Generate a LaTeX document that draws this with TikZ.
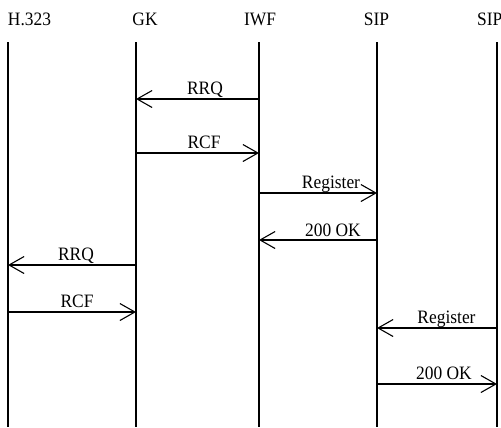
\documentclass[tikz,border=0pt]{standalone}
\usepackage{fontspec}
\setmainfont[FakeStretch=0.92]{Liberation Serif}
\usetikzlibrary{arrows.meta}
\tikzset{
  msg/.style={line width=1.1bp, -{Straight Barb[length=15bp,width=17bp]}},
  lbl/.style={anchor=base, inner sep=0pt, font=\fontsize{19}{22}\selectfont},
}
\begin{document}
\begin{tikzpicture}[x=1bp,y=-1bp]
\useasboundingbox (0,0) rectangle (501,427);
% lifelines
\foreach \n/\x in {h323/8,gk/136,iwf/259,sip/377,sipb/497}{
\coordinate (\n) at (\x,42);
\draw[line width=1.2bp] (\n) -- (\x,427);
}
\node[lbl] (th323) at (29.5,25) {H.323};
\node[lbl] (tgk) at (145,25) {GK};
\node[lbl] (tiwf) at (260,25) {IWF};
\node[lbl] (tsip) at (376.5,25) {SIP};
\node[lbl, anchor=base west] (tsipb) at (477,25) {SIP};
% messages
\draw[msg] (iwf |- 0,99) -- node[lbl, xshift=7.5bp, yshift=5bp] {RRQ} (gk |- 0,99);
\draw[msg] (gk |- 0,153) -- node[lbl, xshift=6.5bp, yshift=5bp] {RCF} (iwf |- 0,153);
\draw[msg] (iwf |- 0,193) -- node[lbl, xshift=13bp, yshift=5bp] {Register} (sip |- 0,193);
\draw[msg] (sip |- 0,240) -- node[lbl, xshift=15bp, yshift=4bp] {200 OK} (iwf |- 0,240);
\draw[msg] (gk |- 0,265) -- node[lbl, xshift=4bp, yshift=5bp] {RRQ} (h323 |- 0,265);
\draw[msg] (h323 |- 0,312) -- node[lbl, xshift=5bp, yshift=5bp] {RCF} (gk |- 0,312);
\draw[msg] (sipb |- 0,328) -- node[lbl, xshift=9.5bp, yshift=5bp] {Register} (sip |- 0,328);
\draw[msg] (sip |- 0,384) -- node[lbl, xshift=7bp, yshift=5bp] {200 OK} (sipb |- 0,384);
\end{tikzpicture}
\end{document}
